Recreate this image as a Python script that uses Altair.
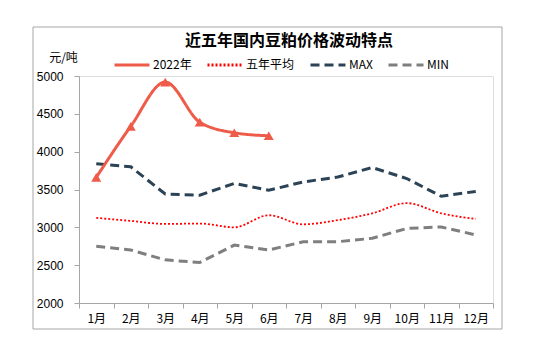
import altair as alt
import pandas as pd

months = ["1月", "2月", "3月", "4月", "5月", "6月", "7月", "8月", "9月", "10月", "11月", "12月"]
s2022 = [3660, 4335, 4920, 4390, 4250, 4210]
avg5 = [3125, 3085, 3045, 3050, 3000, 3160, 3040, 3095, 3185, 3320, 3185, 3110]
vmax = [3840, 3800, 3440, 3425, 3580, 3490, 3600, 3665, 3790, 3645, 3410, 3475]
vmin = [2750, 2700, 2570, 2535, 2765, 2700, 2810, 2810, 2855, 2985, 3005, 2900]
title_text = "近五年国内豆粕价格波动特点"

series_names = ["2022年", "五年平均", "MAX", "MIN"]
colors = ["#EE5B48", "#FF0000", "#2C4356", "#7F7F7F"]
dashes = [[1, 0], [2, 2], [9, 5], [9, 5]]

rows = []
for name, vals in zip(series_names, [s2022, avg5, vmax, vmin]):
    for m, v in zip(months, vals):
        rows.append({"month": m, "value": v, "series": name})
df = pd.DataFrame(rows)

FONT = "Noto Sans CJK SC"

x_enc = alt.X("month:N", sort=months,
              scale=alt.Scale(domain=months, paddingInner=0, paddingOuter=0),
              axis=alt.Axis(title=None, labelAngle=0, tickBand="extent", tickSize=5,
                            labelPadding=5, domainColor="#A6A6A6", tickColor="#A6A6A6",
                            labelFont=FONT, labelFontSize=12, labelColor="#000000"))
y_enc = alt.Y("value:Q", scale=alt.Scale(domain=[2000, 5000], nice=False, zero=False),
              axis=alt.Axis(title="元/吨", titleAngle=0, titleX=-16, titleY=-19,
                            titleAlign="center", titleBaseline="middle",
                            titleFont=FONT, titleFontSize=12, titleFontWeight="normal",
                            values=[2000, 2500, 3000, 3500, 4000, 4500, 5000], format="d",
                            grid=False, tickSize=5, labelPadding=11,
                            domainColor="#A6A6A6", tickColor="#A6A6A6",
                            labelFont="Liberation Sans", labelFontSize=12, labelColor="#000000"))
color_enc = alt.Color("series:N", scale=alt.Scale(domain=series_names, range=colors),
                      legend=alt.Legend(title=None, orient="none", legendX=34, legendY=-30,
                                        direction="horizontal", symbolType="stroke",
                                        symbolSize=1225, symbolStrokeWidth=3,
                                        labelFont=FONT, labelFontSize=12, labelOffset=2,
                                        columnPadding=9, labelColor="#000000"))
dash_enc = alt.StrokeDash("series:N", scale=alt.Scale(domain=series_names, range=dashes),
                          legend=None)

base = alt.Chart(df)

straight = base.transform_filter(
    alt.FieldOneOfPredicate(field="series", oneOf=["MAX", "MIN"])
).mark_line(strokeWidth=3).encode(x=x_enc, y=y_enc, color=color_enc, strokeDash=dash_enc)

avg_line = base.transform_filter(
    alt.FieldEqualPredicate(field="series", equal="五年平均")
).mark_line(strokeWidth=1.8, interpolate="monotone").encode(
    x=x_enc, y=y_enc, color=color_enc, strokeDash=dash_enc)

line22 = base.transform_filter(
    alt.FieldEqualPredicate(field="series", equal="2022年")
).mark_line(strokeWidth=3, interpolate="monotone").encode(
    x=x_enc, y=y_enc, color=color_enc, strokeDash=dash_enc)

pts22 = base.transform_filter(
    alt.FieldEqualPredicate(field="series", equal="2022年")
).mark_point(shape="triangle-up", filled=True, size=100, opacity=1, color="#EE5B48").encode(
    x=x_enc, y=y_enc)

frame = alt.Chart(pd.DataFrame({"a": [0]})).mark_rect(
    fill=None, stroke="#A6A6A6", strokeWidth=1
).encode(x=alt.value(-46), x2=alt.value(423), y=alt.value(-49), y2=alt.value(253))

title_mark = alt.Chart(pd.DataFrame({"t": [title_text]})).mark_text(
    font=FONT, fontSize=16, fontWeight="bold", color="#000000",
    align="center", baseline="middle"
).encode(text="t:N", x=alt.value(210), y=alt.value(-35))

chart = alt.layer(frame, title_mark, straight, avg_line, line22, pts22).properties(
    width=414, height=227,
    autosize=alt.AutoSizeParams(type="none"),
    padding={"left": 79, "top": 76, "right": 54, "bottom": 47},
).configure_view(strokeWidth=0).configure(background="white")

chart.save("out.html", embed_options={"renderer": "svg", "actions": False})
